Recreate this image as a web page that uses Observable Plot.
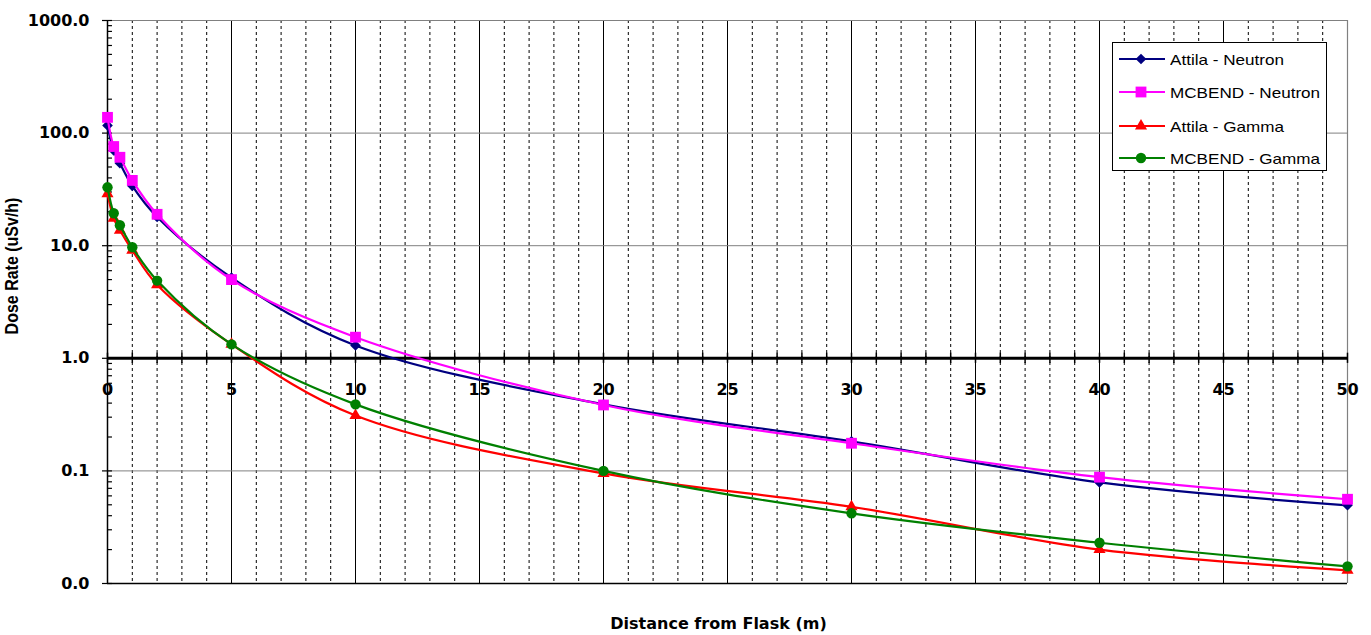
<!DOCTYPE html>
<html>
<head>
<meta charset="utf-8">
<script src="https://cdn.jsdelivr.net/npm/d3@7"></script>
<script src="https://cdn.jsdelivr.net/npm/@observablehq/plot@0.6"></script>
<style>
  body { margin: 0; background: #fff; }
  #wrap { position: relative; width: 1371px; height: 635px; }
  #legend { position: absolute; left: 1112px; top: 42px; width: 215px; height: 129px; border: 1px solid #000; background: #fff; font-family: "Liberation Sans", Arial, sans-serif; font-size: 15px; color: #000; box-sizing: border-box; }
  #legend .item { position: absolute; left: 0; height: 20px; display: flex; align-items: center; white-space: nowrap; }
  #legend svg { display: block; margin-left: 6px; margin-right: 5px; }
  #legend span { display: inline-block; transform: scaleX(1.14); transform-origin: left center; }
</style>
</head>
<body>
<div id="wrap"><div id="chart"></div><div id="legend"></div></div>
<script>
// ---- data ----
const distances = [0, 0.25, 0.5, 1, 2, 5, 10, 20, 30, 40, 50];
const attilaNeutron = [117, 70, 54, 34, 18, 5.2, 1.3, 0.39, 0.183, 0.079, 0.0495];
const mcbendNeutron = [138, 76, 61, 38, 19, 5.0, 1.54, 0.385, 0.176, 0.088, 0.056];
const attilaGamma = [29, 17.5, 13.7, 9.1, 4.5, 1.33, 0.31, 0.095, 0.048, 0.020, 0.0131];
const mcbendGamma = [33, 19.4, 15.2, 9.7, 4.9, 1.33, 0.39, 0.1, 0.042, 0.023, 0.0142];
const seriesNames = ["Attila - Neutron", "MCBEND - Neutron", "Attila - Gamma", "MCBEND - Gamma"];
const seriesValues = [attilaNeutron, mcbendNeutron, attilaGamma, mcbendGamma];
const seriesColors = ["#000080", "#FF00FF", "#FF0000", "#008000"];
const seriesSymbols = ["diamond2", "square", "triangle", "circle"];
const seriesR = [4.8, 6.1, 4.5, 5.2];
const yTicks = [0.01, 0.1, 1, 10, 100, 1000];
const yTickLabels = ["0.0", "0.1", "1.0", "10.0", "100.0", "1000.0"];
const xLabelTicks = [0, 5, 10, 15, 20, 25, 30, 35, 40, 45, 50];
const xTitle = "Distance from Flask (m)";
const yTitle = "Dose Rate (uSv/h)";

// ---- derived ----
const xInts = d3.range(0, 51);
const xMinor = xInts.filter(d => d % 5 !== 0);
const xMajorInner = xInts.filter(d => d % 5 === 0 && d > 0 && d < 50);
const yMinor = [];
for (let e = -2; e < 3; e++) for (let m = 2; m <= 9; m++) yMinor.push(m * Math.pow(10, e));

const rows = [];
seriesNames.forEach((name, s) => {
  distances.forEach((x, i) => rows.push({series: name, x, y: seriesValues[s][i]}));
});

const seriesMarks = [];
seriesNames.forEach((name, s) => {
  const data = rows.filter(r => r.series === name);
  seriesMarks.push(Plot.line(data, {x: "x", y: "y", stroke: seriesColors[s], strokeWidth: 2.2, curve: "catmull-rom"}));
  seriesMarks.push(Plot.dot(data, {x: "x", y: "y", symbol: seriesSymbols[s], r: seriesR[s], fill: seriesColors[s], stroke: "none"}));
});

const boldX = {fontFamily: "DejaVu Sans", fontWeight: "bold", fontSize: 16, fill: "#000"};

const chart = Plot.plot({
  width: 1371,
  height: 635,
  marginLeft: 107,
  marginRight: 24,
  marginTop: 20,
  marginBottom: 52,
  x: {domain: [0, 50], axis: null},
  y: {type: "log", domain: [0.01, 1000]},
  style: {background: "transparent", overflow: "visible"},
  marks: [
    Plot.ruleX(xMinor, {stroke: "#000", strokeDasharray: "3,3", strokeWidth: 1}),
    Plot.ruleX(xMajorInner, {stroke: "#000", strokeWidth: 1}),
    Plot.ruleY([0.1, 10, 100, 1000], {stroke: "#808080", strokeWidth: 1}),
    Plot.ruleX([50], {stroke: "#808080", strokeWidth: 1.2}),
    Plot.ruleY([0.01], {stroke: "#000", strokeWidth: 1.5}),
    Plot.ruleX([0], {stroke: "#000", strokeWidth: 1.5}),
    Plot.ruleY(yMinor, {x1: 0, x2: 0.2, stroke: "#000", strokeWidth: 1.2}),
    Plot.ruleY(yTicks, {x1: 0, x2: 0.2, stroke: "#000", strokeWidth: 1.2}),
    Plot.axisY(yTicks, {tickSize: 5, tickPadding: 13, strokeWidth: 1.2, tickFormat: d => yTickLabels[yTicks.indexOf(d)], label: null, ...boldX}),
    Plot.ruleY([1], {stroke: "#000", strokeWidth: 3}),
    Plot.ruleX(xInts, {y1: 1 / 1.11, y2: 1.11, stroke: "#000", strokeWidth: 1.5}),
    Plot.text(xLabelTicks, {x: d => d, y: () => 1, dy: 32, text: d => String(d), ...boldX}),
    ...seriesMarks,
    Plot.text([xTitle], {frameAnchor: "bottom", dx: -9, dy: 45, text: d => d, ...boldX}),
    Plot.text([yTitle], {frameAnchor: "left", textAnchor: "middle", dx: -95, dy: -36, rotate: -90, text: d => d, fontFamily: "Liberation Sans", fontWeight: "bold", fontSize: 16, fill: "#000"})
  ]
});
document.getElementById("chart").appendChild(chart);

// thicken the rotated title slightly, like the reference rendering
chart.querySelectorAll("text").forEach(t => {
  if (t.textContent === yTitle) {
    const tr = t.getAttribute("transform") || "";
    if (tr.includes("rotate")) t.setAttribute("transform", tr + " scale(1,1.15)");
  }
});

// ---- legend ----
const legend = document.getElementById("legend");
const itemTops = [6, 39, 73, 105];
seriesNames.forEach((name, s) => {
  const item = document.createElement("div");
  item.className = "item";
  item.style.top = itemTops[s] + "px";
  const symType = {diamond2: d3.symbolDiamond2, square: d3.symbolSquare, triangle: d3.symbolTriangle, circle: d3.symbolCircle}[seriesSymbols[s]];
  const path = d3.symbol(symType, seriesR[s] * seriesR[s] * Math.PI)();
  item.innerHTML = `<svg width="46" height="20"><line x1="0" y1="10" x2="46" y2="10" stroke="${seriesColors[s]}" stroke-width="2.2"/><path d="${path}" transform="translate(22,10)" fill="${seriesColors[s]}"/></svg><span>${name}</span>`;
  legend.appendChild(item);
});
</script>
</body>
</html>
